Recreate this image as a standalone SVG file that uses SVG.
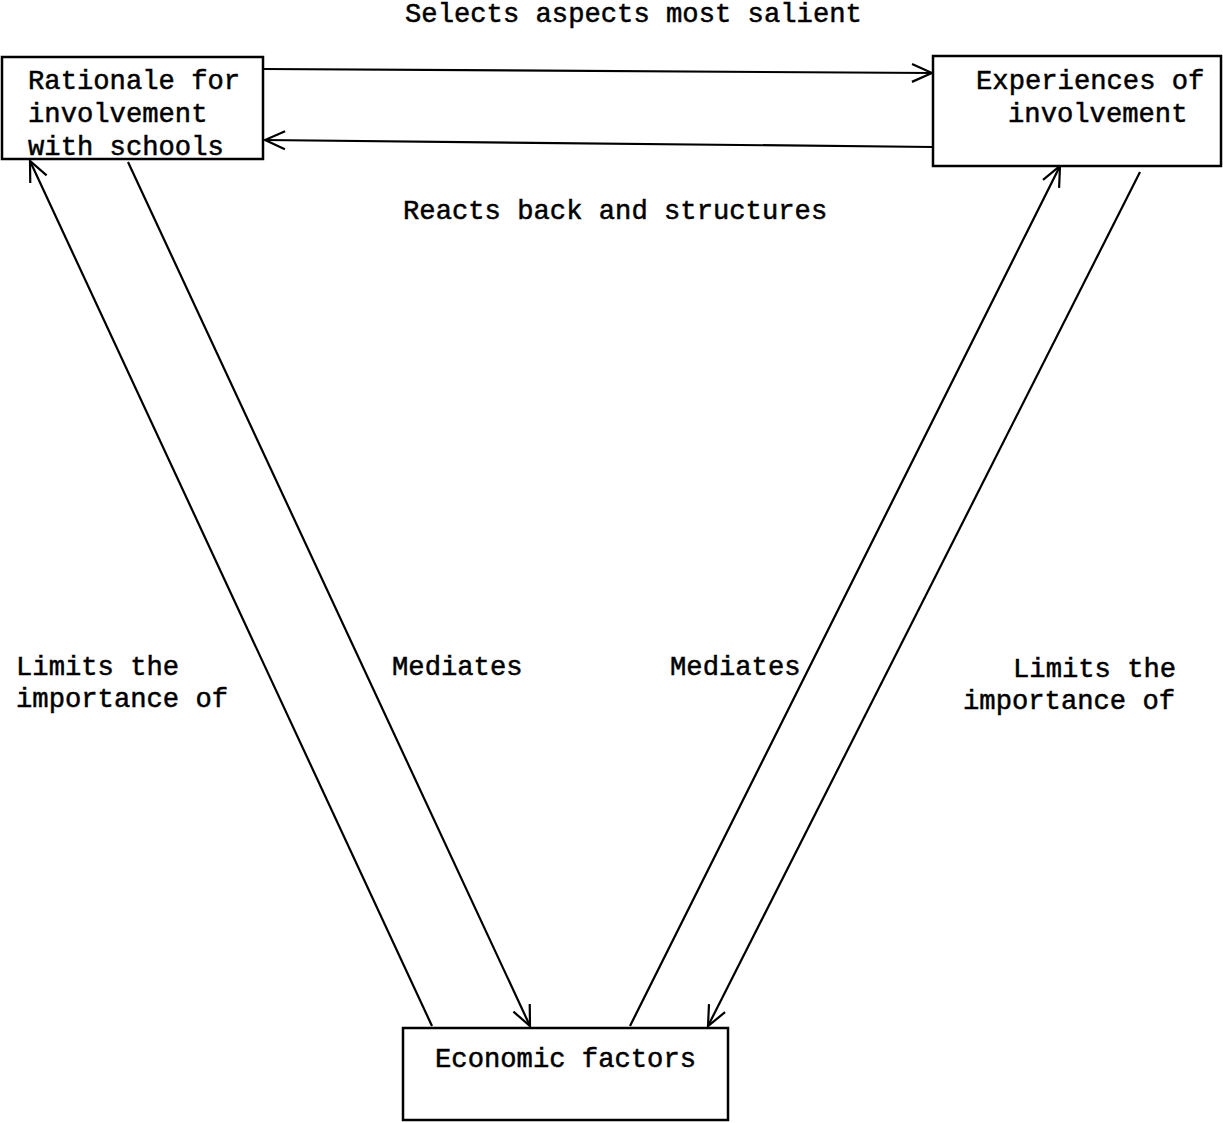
<svg xmlns="http://www.w3.org/2000/svg" width="1223" height="1123" viewBox="0 0 1223 1123">
  <style>
    .box { fill: #fff; stroke: #000; stroke-width: 2.5; }
    .lbl { font-family: "Liberation Mono", "DejaVu Sans Mono", monospace; font-size: 27.2px; fill: #000; stroke: #000; stroke-width: 0.5; }
    .link { fill: none; stroke: #000; stroke-width: 2.2; marker-end: url(#head); }
  </style>
  <defs>
    <marker id="head" viewBox="0 0 24 24" refX="22" refY="12" markerWidth="24" markerHeight="24" markerUnits="userSpaceOnUse" orient="auto">
      <path d="M2,3 L22,12 L2,21" fill="none" stroke="#000" stroke-width="2.2"/>
    </marker>
  </defs>

  <g id="connectors">
    <line class="link" x1="264" y1="69" x2="932" y2="73"/>
    <line class="link" x1="933" y1="147" x2="265" y2="140"/>
    <line class="link" x1="432" y1="1026" x2="30" y2="161"/>
    <line class="link" x1="128" y1="162" x2="530" y2="1026"/>
    <line class="link" x1="630" y1="1026" x2="1060" y2="166"/>
    <line class="link" x1="1140" y1="172" x2="708" y2="1026"/>
  </g>

  <g id="rationale">
    <rect class="box" x="2" y="57" width="261" height="102"/>
    <text class="lbl" x="28" y="89">Rationale for</text>
    <text class="lbl" x="28" y="122">involvement</text>
    <text class="lbl" x="28" y="155">with schools</text>
  </g>

  <g id="experiences">
    <rect class="box" x="933" y="56" width="288" height="110"/>
    <text class="lbl" x="976" y="89">Experiences of</text>
    <text class="lbl" x="1008" y="122">involvement</text>
  </g>

  <g id="economic">
    <rect class="box" x="403" y="1028" width="325" height="92"/>
    <text class="lbl" x="435" y="1067">Economic factors</text>
  </g>

  <g id="labels">
    <text class="lbl" x="405" y="22">Selects aspects most salient</text>
    <text class="lbl" x="403" y="219">Reacts back and structures</text>
    <text class="lbl" x="16" y="675">Limits the</text>
    <text class="lbl" x="16" y="707">importance of</text>
    <text class="lbl" x="392" y="675">Mediates</text>
    <text class="lbl" x="670" y="675">Mediates</text>
    <text class="lbl" x="1013" y="677">Limits the</text>
    <text class="lbl" x="963" y="709">importance of</text>
  </g>
</svg>
